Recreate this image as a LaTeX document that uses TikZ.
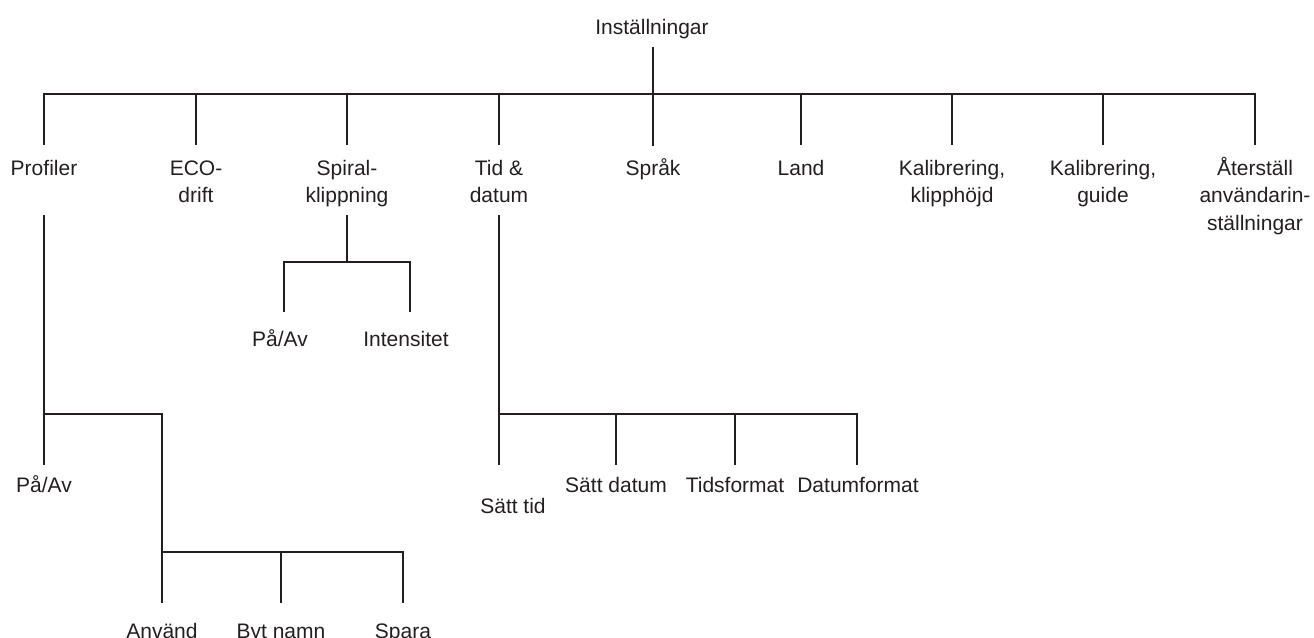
\documentclass[tikz,border=0pt]{standalone}
\usepackage{fontspec}
\setmainfont{Liberation Sans}
\definecolor{ink}{HTML}{231F20}
\newcommand\lbl[1]{\begin{tabular}[t]{@{}c@{}}#1\end{tabular}}
\begin{document}
\begin{tikzpicture}[x=1pt,y=-1pt,
  ln/.style={draw=ink,line width=2.7pt},
  lab/.style={anchor=base,inner sep=0pt,text=ink,font=\fontsize{21}{27.5}\selectfont}]
\clip (0,0) rectangle (1314,637);
% root
\node[lab] (root) at (652,34) {Inställningar};
% level 1
\node[lab] (prof)  at (44,175)   {\lbl{Profiler}};
\node[lab] (eco)   at (196,175)  {\lbl{ECO-\\drift}};
\node[lab] (spir)  at (347,175)  {\lbl{Spiral-\\klippning}};
\node[lab] (tid)   at (499,175)  {\lbl{Tid \&\\datum}};
\node[lab] (sprak) at (653,175)  {\lbl{Språk}};
\node[lab] (land)  at (801,175)  {\lbl{Land}};
\node[lab] (kalA)  at (952,175)  {\lbl{Kalibrering,\\klipphöjd}};
\node[lab] (kalB)  at (1103,175) {\lbl{Kalibrering,\\guide}};
\node[lab] (ater)  at (1255,175) {\lbl{Återställ\\användarin-\\ställningar}};
% spiral children
\node[lab] (sppa)  at (280,346) {På/Av};
\node[lab] (spint) at (406,346) {Intensitet};
% profiler children
\node[lab] (prpa)  at (44,492)  {På/Av};
\node[lab] (pranv) at (162,638) {Använd};
\node[lab] (prbyt) at (281,638) {Byt namn};
\node[lab] (prspa) at (403,638) {Spara};
% tid children
\node[lab] (tdtid) at (513,513) {Sätt tid};
\node[lab] (tddat) at (616,492) {Sätt datum};
\node[lab] (tdtf)  at (735,492) {Tidsformat};
\node[lab] (tddf)  at (858,492) {Datumformat};

% connector end points
\coordinate (root-out) at (653,47);
\coordinate (busA) at (0,94);
\coordinate (prof-in)  at (44,145);
\coordinate (eco-in)   at (196,145);
\coordinate (spir-in)  at (347,145);
\coordinate (tid-in)   at (499,145);
\coordinate (sprak-in) at (653,146);
\coordinate (land-in)  at (801,145);
\coordinate (kalA-in)  at (952,145);
\coordinate (kalB-in)  at (1103,145);
\coordinate (ater-in)  at (1255,145);

\coordinate (spir-out) at (347,215);
\coordinate (busS) at (0,262);
\coordinate (sppa-in)  at (284,312);
\coordinate (spint-in) at (410,312);

\coordinate (prof-out) at (44,215);
\coordinate (busP) at (0,414);
\coordinate (prpa-in)  at (44,465);
\coordinate (pranv-in) at (162,603);
\coordinate (busQ) at (0,552);
\coordinate (prbyt-in) at (281,603);
\coordinate (prspa-in) at (403,603);

\coordinate (tid-out) at (499,215);
\coordinate (busT) at (0,414);
\coordinate (tdtid-in) at (499,465);
\coordinate (tddat-in) at (616,465);
\coordinate (tdtf-in)  at (735,465);
\coordinate (tddf-in)  at (857,465);

% root connectors
\foreach \c in {prof,eco,spir,tid,land,kalA,kalB,ater}
  \draw[ln] (root-out) -- (root-out |- busA) -| (\c-in);
\draw[ln] (root-out) -- (sprak-in);

% spiral
\foreach \c in {sppa,spint}
  \draw[ln] (spir-out) -- (spir-out |- busS) -| (\c-in);

% profiler
\draw[ln] (prof-out) -- (prpa-in);
\draw[ln] (prof-out |- busP) -| (pranv-in);
\foreach \c in {prbyt,prspa}
  \draw[ln] (pranv-in |- busQ) -| (\c-in);

% tid
\draw[ln] (tid-out) -- (tdtid-in);
\foreach \c in {tddat,tdtf,tddf}
  \draw[ln] (tid-out |- busT) -| (\c-in);
\end{tikzpicture}
\end{document}
